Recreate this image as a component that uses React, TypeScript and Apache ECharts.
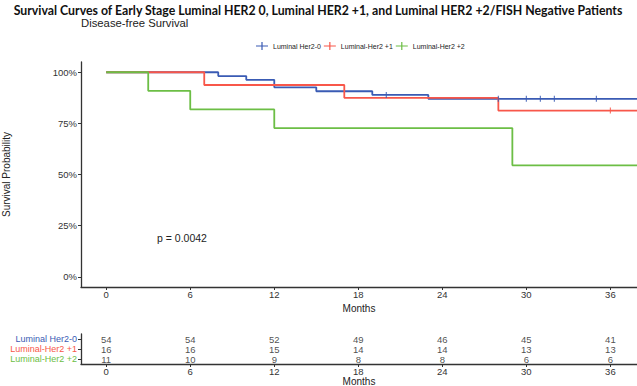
import React, { useEffect, useRef } from "react";
import * as echarts from "echarts";

const groups = ["Luminal Her2-0", "Luminal-Her2 +1", "Luminal-Her2 +2"];
const colors = ["#3A5BB4", "#F8574A", "#6CBE45"];

// Kaplan-Meier step points [month, survival]
const her2_0 = [[0, 1], [8, 0.981], [10, 0.963], [12, 0.926], [15, 0.907], [19, 0.889], [23, 0.870], [37.9, 0.870]];
const her2_1 = [[0, 1], [7, 0.9375], [17, 0.875], [28, 0.8125], [37.9, 0.8125]];
const her2_2 = [[0, 1], [3, 0.909], [6, 0.818], [12, 0.727], [29, 0.545], [37.9, 0.545]];

const censor_0 = [[20, 0.889], [28, 0.870], [30, 0.870], [31, 0.870], [32, 0.870], [35, 0.870]];
const censor_1 = [[36, 0.8125]];

const riskTimes = [0, 6, 12, 18, 24, 30, 36];
const risk_0 = [54, 54, 52, 49, 46, 45, 41];
const risk_1 = [16, 16, 15, 14, 14, 13, 13];
const risk_2 = [11, 10, 9, 8, 8, 6, 6];

const yTicks = [0, 0.25, 0.5, 0.75, 1];

export default function App() {
  const ref = useRef<HTMLDivElement>(null);
  useEffect(() => {
    const chart = echarts.init(ref.current!, null, { renderer: "svg" });
    const font = "'Liberation Sans', Arial, sans-serif";
    const axisCol = "#333333";
    const legendIcon = "path://M0,3.4h12v1.2h-12z M5.4,0h1.2v8h-1.2z";
    const riskSets = [risk_0, risk_1, risk_2];
    const riskData: any[] = [];
    riskSets.forEach((arr, g) => {
      arr.forEach((v, i) => riskData.push([riskTimes[i], groups[g], v]));
    });
    const mkLine = (name: string, data: number[][], color: string) => ({
      name,
      type: "line",
      step: "end",
      data,
      xAxisIndex: 0,
      yAxisIndex: 0,
      symbol: "none",
      lineStyle: { color, width: 1.8 },
      itemStyle: { color },
      z: 3,
    });
    const mkCensor = (name: string, data: number[][], color: string) => ({
      name,
      type: "scatter",
      data,
      xAxisIndex: 0,
      yAxisIndex: 0,
      symbol: "rect",
      symbolSize: [1.2, 6],
      itemStyle: { color },
      z: 4,
    });
    const axisLine = { show: true, onZero: false, lineStyle: { color: axisCol, width: 1.3, opacity: 1, type: "solid" } };
    const xCommon = {
      type: "value",
      min: -1.8,
      max: 37.9,
      position: "bottom",
      splitLine: { show: false },
      axisLine,
      axisTick: { show: true, length: 3, customValues: riskTimes, lineStyle: { color: axisCol } },
      axisLabel: { customValues: riskTimes, color: "#333", fontSize: 9.5, fontFamily: font, margin: 2 },
      name: "Months",
      nameLocation: "middle",
      nameTextStyle: { color: "#222", fontSize: 10, fontFamily: font },
    };
    chart.setOption({
      animation: false,
      backgroundColor: "#ffffff",
      title: [
        {
          text: "Survival Curves of Early Stage Luminal HER2 0, Luminal HER2 +1, and Luminal HER2 +2/FISH Negative Patients",
          left: 318,
          textAlign: "center",
          top: 4,
          padding: 0,
          textStyle: { fontFamily: "Lato, sans-serif", fontWeight: "bold", fontSize: 12.3, color: "#111" },
        },
        {
          text: "Disease-free Survival",
          left: 81,
          top: 17,
          padding: 0,
          textStyle: { fontFamily: font, fontWeight: "normal", fontSize: 11.3, color: "#222" },
        },
      ],
      legend: {
        data: groups.map((g) => ({ name: g, icon: legendIcon })),
        left: 256,
        top: 42,
        padding: 0,
        itemWidth: 12,
        itemHeight: 8,
        itemGap: 3,
        textStyle: { fontSize: 7, fontFamily: font, color: "#222" },
      },
      grid: [
        { left: 81, right: 0, top: 62, bottom: 99, containLabel: false, outerBoundsMode: "none" },
        { left: 81, right: 0, top: 334, bottom: 22, containLabel: false, outerBoundsMode: "none" },
      ],
      xAxis: [
        { ...xCommon, gridIndex: 0, nameGap: 10 },
        { ...xCommon, gridIndex: 1, nameGap: 11 },
      ],
      yAxis: [
        {
          type: "value",
          gridIndex: 0,
          position: "left",
          min: -0.05,
          max: 1.05,
          splitLine: { show: false },
          axisLine,
          axisTick: { show: true, length: 3, customValues: yTicks, lineStyle: { color: axisCol } },
          axisLabel: {
            customValues: yTicks,
            formatter: (v: number) => Math.round(v * 100) + "%",
            color: "#333",
            fontSize: 9.5,
            fontFamily: font,
            margin: 4,
          },
          name: "Survival Probability",
          nameLocation: "middle",
          nameGap: 70,
          nameTextStyle: { color: "#222", fontSize: 10, fontFamily: font },
        },
        {
          type: "category",
          gridIndex: 1,
          position: "left",
          data: groups,
          inverse: true,
          axisLine,
          axisTick: { show: true, length: 3, alignWithLabel: true, interval: 0, lineStyle: { color: axisCol } },
          axisLabel: {
            interval: 0,
            margin: 4,
            fontFamily: font,
            fontSize: 9,
            lineHeight: 10,
            formatter: (v: string, i: number) => `{c${i}|${v}}`,
            rich: {
              c0: { color: colors[0], fontSize: 9, lineHeight: 10, fontFamily: font },
              c1: { color: colors[1], fontSize: 9, lineHeight: 10, fontFamily: font },
              c2: { color: colors[2], fontSize: 9, lineHeight: 10, fontFamily: font },
            },
          },
        },
      ],
      graphic: [
        {
          type: "text",
          left: 157,
          top: 232,
          style: { text: "p = 0.0042", fontSize: 10.5, fontFamily: font, fill: "#222" },
        },
      ],
      series: [
        mkLine(groups[0], her2_0, colors[0]),
        mkLine(groups[1], her2_1, colors[1]),
        mkLine(groups[2], her2_2, colors[2]),
        mkCensor(groups[0], censor_0, colors[0]),
        mkCensor(groups[1], censor_1, colors[1]),
        {
          type: "scatter",
          xAxisIndex: 1,
          yAxisIndex: 1,
          data: riskData,
          encode: { x: 0, y: 1 },
          symbolSize: 0,
          silent: true,
          label: {
            show: true,
            position: "inside",
            formatter: (p: any) => String(p.value[2]),
            color: "#222",
            fontSize: 9.5,
            lineHeight: 10,
            fontFamily: font,
          },
        },
      ],
    });
    return () => chart.dispose();
  }, []);
  return (
    <div
      ref={ref}
      style={{ position: "absolute", left: 0, top: 0, width: 637, height: 386 }}
    />
  );
}
